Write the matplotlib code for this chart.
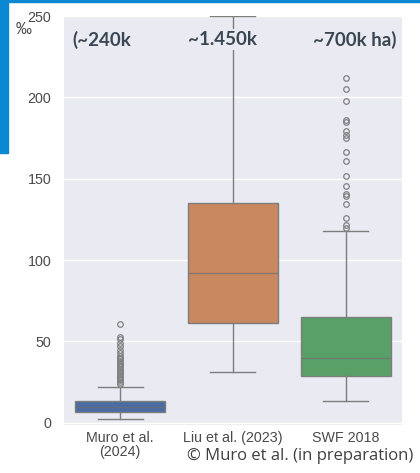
import matplotlib.pyplot as plt
import numpy as np

# values (per mille)
studies = ['Muro et al.\n(2024)', 'Liu et al. (2023)', 'SWF 2018']
area_notes = ['(~240k', '~1.450k', '~700k ha)']
q1 = [6.6, 61.2, 29.0]
median = [9.8, 92.3, 40.0]
q3 = [13.3, 135.0, 65.0]
whislo = [2.5, 31.5, 13.5]
whishi = [22.3, 250.0, 118.0]
fliers = [
    [24, 25, 26, 27, 28, 29, 30, 31, 32, 33, 34, 35, 36, 37, 38, 39, 40,
     41, 43, 45, 47, 49, 51.5, 53, 61],
    [],
    [119.9, 121.5, 126.0, 134.4, 139.5, 140.9, 145.6, 151.8, 160.7, 166.5,
     175.1, 177.1, 179.1, 184.8, 186.4, 197.7, 205.2, 211.7],
]
box_colors = ['#4a6ba3', '#c9885f', '#58a068']

fig = plt.figure(figsize=(4.2, 4.73), dpi=100)
ax = fig.add_axes([0.152, 0.101, 0.805, 0.865])
ax.set_facecolor('#eaeaf2')
ax.grid(True, axis='y', color='white', linewidth=1.0)
ax.set_axisbelow(True)
for s in ax.spines.values():
    s.set_visible(False)

stats = []
for i in range(len(studies)):
    stats.append({'q1': q1[i], 'med': median[i], 'q3': q3[i],
                  'whislo': whislo[i], 'whishi': whishi[i],
                  'fliers': fliers[i], 'label': studies[i]})

line_col = '#7d7d7d'
bp = ax.bxp(stats, positions=range(len(studies)), widths=0.8,
            capwidths=0.4, patch_artist=True, showfliers=True,
            boxprops=dict(edgecolor=line_col, linewidth=1.0),
            whiskerprops=dict(color=line_col, linewidth=1.0),
            capprops=dict(color=line_col, linewidth=1.0),
            medianprops=dict(color='#6f6f6f', linewidth=1.0, alpha=0.7),
            flierprops=dict(marker='o', markersize=4, markerfacecolor='none',
                            markeredgecolor='#808080', markeredgewidth=0.9))
for patch, c in zip(bp['boxes'], box_colors):
    patch.set_facecolor(c)

ax.set_xlim(-0.5, 2.5)
ax.set_ylim(-1.5, 250)
ax.set_yticks([0, 50, 100, 150, 200, 250])
ax.tick_params(axis='both', length=0, labelsize=10.3, colors='#4a4a4a')
ax.tick_params(axis='y', pad=9)
ax.tick_params(axis='x', pad=4)
ax.set_xticks(range(len(studies)))
ax.set_xticklabels(studies, fontfamily='Liberation Sans', linespacing=1.05)
for lab in ax.get_yticklabels():
    lab.set_fontfamily('Liberation Sans')

# per mille unit under the top tick
fig.text(0.038, 0.937, '‰', fontsize=11.5, color='#4a4a4a', ha='left', va='center',
         fontfamily='Liberation Sans')

# area notes above each box (text sits on the plot background)
note_x = [0.172, 0.447, 0.745]
for x, t in zip(note_x, area_notes):
    fig.text(x, 0.916, t, fontsize=13.5, fontweight='bold', color='#3a4753',
             ha='left', va='center', fontfamily='Lato',
             bbox=dict(facecolor='#eaeaf2', edgecolor='none', pad=1.5))

fig.text(0.985, 0.02, '© Muro et al. (in preparation)', fontsize=12,
         color='#404040', ha='right', va='bottom', fontfamily='Open Sans')

# slide decoration
fig.add_artist(plt.Rectangle((0, 0.996), 1, 0.004, color='#0a88d2',
                             transform=fig.transFigure))
fig.add_artist(plt.Rectangle((0, 1 - 153 / 473), 8 / 420, 153 / 473,
                             color='#0a88d2', transform=fig.transFigure))

fig.savefig('out.png', dpi=100)
